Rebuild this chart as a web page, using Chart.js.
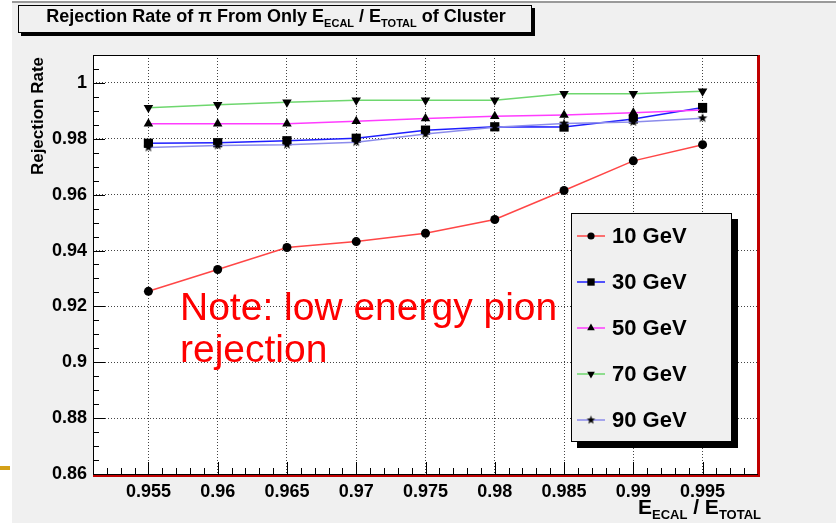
<!DOCTYPE html>
<html>
<head>
    <title>Rejection Rate of pi</title>
    <script src="https://cdn.jsdelivr.net/npm/chart.js"></script>
    <style>body { margin: 0; background: #fff; }</style>
</head>
<body>
    <canvas id="myChart" width="836" height="523"></canvas>
    <script>
        // values
        var ratios = [0.955, 0.96, 0.965, 0.97, 0.975, 0.98, 0.985, 0.99, 0.995];
        var seriesNames = ['10 GeV', '30 GeV', '50 GeV', '70 GeV', '90 GeV'];
        var rate10 = [0.9254, 0.9332, 0.9411, 0.9432, 0.9462, 0.9511, 0.9615, 0.9721, 0.9779];
        var rate30 = [0.9784, 0.9786, 0.9793, 0.9802, 0.9831, 0.9843, 0.9842, 0.9871, 0.9912];
        var rate50 = [0.9854, 0.9854, 0.9854, 0.9863, 0.9873, 0.9881, 0.9885, 0.9893, 0.9903];
        var rate70 = [0.9911, 0.9922, 0.9931, 0.9938, 0.9938, 0.9938, 0.9961, 0.9961, 0.9970];
        var rate90 = [0.9769, 0.9776, 0.9779, 0.9788, 0.9817, 0.9841, 0.9855, 0.9860, 0.9874];
        var xTicks = [0.955, 0.96, 0.965, 0.97, 0.975, 0.98, 0.985, 0.99, 0.995];
        var yTicks = [0.86, 0.88, 0.9, 0.92, 0.94, 0.96, 0.98, 1];

        var bgGray = '#f0f0f0';
        var boldFont = '"Liberation Sans", Arial, sans-serif';

        // filled star marker like ROOT's
        function makeStar(r) {
            var c = document.createElement('canvas');
            c.width = c.height = Math.ceil(r * 2 + 2);
            var g = c.getContext('2d');
            var cx = c.width / 2, cy = c.height / 2;
            g.beginPath();
            for (var i = 0; i < 10; i++) {
                var rr = i % 2 === 0 ? r : r * 0.42;
                var a = -Math.PI / 2 + i * Math.PI / 5;
                g.lineTo(cx + rr * Math.cos(a), cy + rr * Math.sin(a));
            }
            g.closePath();
            g.fillStyle = '#000';
            g.fill();
            return c;
        }
        var starBig = makeStar(5);
        var starSmall = makeStar(4.5);

        function points(vals) {
            return vals.map(function (v, i) { return { x: ratios[i], y: v }; });
        }

        var styles = [
            { color: 'rgb(255,70,70)', style: 'circle', radius: 4.5, rot: 0 },
            { color: 'rgb(30,30,255)', style: 'rect', radius: 6.5, rot: 0 },
            { color: 'rgb(255,60,255)', style: 'triangle', radius: 5.5, rot: 0 },
            { color: 'rgb(110,215,110)', style: 'triangle', radius: 5.5, rot: 180 },
            { color: 'rgb(140,140,235)', style: starBig, radius: 5, rot: 0 }
        ];
        var allRates = [rate10, rate30, rate50, rate70, rate90];

        var datasets = allRates.map(function (vals, i) {
            var s = styles[i];
            return {
                label: seriesNames[i],
                data: points(vals),
                borderColor: s.color,
                borderWidth: 1.5,
                pointStyle: s.style,
                pointRadius: s.radius,
                pointRotation: s.rot,
                pointBackgroundColor: '#000',
                pointBorderColor: '#000',
                pointBorderWidth: 0,
                tension: 0,
                fill: false,
                order: 5 - i
            };
        });

        function drawSubText(ctx, parts, x, y, align) {
            // parts: [text, size, dy]
            var total = 0;
            parts.forEach(function (p) {
                ctx.font = 'bold ' + p[1] + 'px ' + boldFont;
                p.w = ctx.measureText(p[0]).width;
                total += p.w;
            });
            var cx = align === 'center' ? x - total / 2 : (align === 'right' ? x - total : x);
            ctx.textAlign = 'left';
            ctx.textBaseline = 'alphabetic';
            parts.forEach(function (p) {
                ctx.font = 'bold ' + p[1] + 'px ' + boldFont;
                ctx.fillText(p[0], cx, y + p[2]);
                cx += p.w;
            });
        }

        var rootStyle = {
            id: 'rootStyle',
            beforeDraw: function (chart) {
                var ctx = chart.ctx, a = chart.chartArea;
                ctx.save();
                ctx.fillStyle = '#fff';
                ctx.fillRect(0, 0, chart.width, chart.height);
                ctx.fillStyle = bgGray;
                ctx.fillRect(12, 3, chart.width - 12, chart.height - 3);
                ctx.fillStyle = '#9a9a9a';
                ctx.fillRect(12, 1, chart.width - 12, 2);
                ctx.fillStyle = '#d4a017';
                ctx.fillRect(0, 466, 10, 4);
                ctx.fillStyle = '#fff';
                ctx.fillRect(a.left, a.top, a.right - a.left, a.bottom - a.top);
                ctx.restore();
            },
            afterDraw: function (chart) {
                var ctx = chart.ctx, a = chart.chartArea;
                var xs = chart.scales.x, ys = chart.scales.y;
                ctx.save();

                // frame
                ctx.fillStyle = '#c00000';
                ctx.fillRect(a.right - 1, a.top, 3, a.bottom - a.top + 3);
                ctx.fillRect(a.left, a.bottom + 1, a.right - a.left + 2, 2);
                ctx.strokeStyle = '#000';
                ctx.lineWidth = 1;
                ctx.beginPath();
                ctx.moveTo(a.left + 0.5, a.top);
                ctx.lineTo(a.left + 0.5, a.bottom + 0.5);
                ctx.lineTo(a.right, a.bottom + 0.5);
                ctx.moveTo(a.left, a.top + 0.5);
                ctx.lineTo(a.right, a.top + 0.5);
                ctx.stroke();

                // ticks inside frame
                ctx.beginPath();
                for (var k = 172; k <= 202; k++) {
                    var py = Math.round(ys.getPixelForValue(k * 0.005)) + 0.5;
                    var len = k % 4 === 0 ? 12 : 6;
                    ctx.moveTo(a.left, py);
                    ctx.lineTo(a.left + len, py);
                }
                for (var m = 952; m <= 998; m++) {
                    var px = Math.round(xs.getPixelForValue(m * 0.001)) + 0.5;
                    var l2 = m % 5 === 0 ? 12 : 6;
                    ctx.moveTo(px, a.bottom);
                    ctx.lineTo(px, a.bottom - l2);
                }
                ctx.stroke();

                // title box
                ctx.fillStyle = '#000';
                ctx.fillRect(21, 8, 514, 28);
                ctx.fillStyle = bgGray;
                ctx.fillRect(18, 5, 514, 28);
                ctx.strokeRect(18.5, 5.5, 513, 27);
                ctx.fillStyle = '#000';
                drawSubText(ctx, [
                    ['Rejection Rate of \u03c0 From Only E', 18, 0],
                    ['ECAL', 11, 5],
                    [' / E', 18, 0],
                    ['TOTAL', 11, 5],
                    [' of Cluster', 18, 0]
                ], 276, 22, 'center');

                // axis titles
                drawSubText(ctx, [
                    ['E', 21, 0],
                    ['ECAL', 13, 5],
                    [' / E', 21, 0],
                    ['TOTAL', 13, 5]
                ], 761, 514, 'right');
                ctx.save();
                ctx.translate(43, 57);
                ctx.rotate(-Math.PI / 2);
                ctx.font = 'bold 17px ' + boldFont;
                ctx.textAlign = 'right';
                ctx.textBaseline = 'alphabetic';
                ctx.fillText('Rejection Rate', 0, 0);
                ctx.restore();

                // note
                ctx.fillStyle = '#ff0000';
                ctx.font = '39px ' + boldFont;
                ctx.textAlign = 'left';
                ctx.fillText('Note: low energy pion', 180, 320);
                ctx.fillText('rejection', 180, 362);

                // legend
                ctx.fillStyle = '#000';
                ctx.fillRect(577, 219, 161, 229);
                ctx.fillStyle = bgGray;
                ctx.fillRect(571, 213, 161, 229);
                ctx.strokeRect(571.5, 213.5, 160, 228);
                var rowY = [236, 282, 328, 374, 420];
                chart.data.datasets.forEach(function (ds, i) {
                    var y = rowY[i];
                    ctx.setLineDash([]);
                    ctx.strokeStyle = ds.borderColor;
                    ctx.lineWidth = 1.5;
                    ctx.beginPath();
                    ctx.moveTo(577, y);
                    ctx.lineTo(605, y);
                    ctx.stroke();
                    var st = ds.pointStyle === starBig ? starSmall : ds.pointStyle;
                    ctx.fillStyle = '#000';
                    ctx.strokeStyle = '#000';
                    Chart.helpers.drawPoint(ctx, {
                        pointStyle: st,
                        radius: ds.pointRadius * 0.8,
                        rotation: ds.pointRotation,
                        borderWidth: 0
                    }, 591, y);
                    ctx.fillStyle = '#000';
                    ctx.font = 'bold 22px ' + boldFont;
                    ctx.textBaseline = 'middle';
                    ctx.fillText(ds.label, 612, y + 1);
                });
                ctx.restore();
            }
        };

        var ctx = document.getElementById('myChart').getContext('2d');
        var myChart = new Chart(ctx, {
            type: 'line',
            data: { datasets: datasets },
            options: {
                responsive: false,
                animation: false,
                layout: { padding: { top: 55, right: 78, left: 0, bottom: 0 } },
                plugins: { legend: { display: false }, tooltip: { enabled: false } },
                elements: { point: { backgroundColor: '#000' } },
                scales: {
                    x: {
                        type: 'linear',
                        min: 0.951,
                        max: 0.999,
                        afterBuildTicks: function (s) { s.ticks = xTicks.map(function (v) { return { value: v }; }); },
                        afterFit: function (s) { s.height = 49; },
                        grid: { color: '#444', drawTicks: false },
                        border: { display: false, dash: [1, 2] },
                        ticks: {
                            padding: 7,
                            color: '#000',
                            maxRotation: 0,
                            font: { family: boldFont, size: 18, weight: 'bold' },
                            callback: function (v) { return String(+v.toFixed(3)); }
                        }
                    },
                    y: {
                        min: 0.86,
                        max: 1.01,
                        afterBuildTicks: function (s) { s.ticks = yTicks.map(function (v) { return { value: v }; }); },
                        afterFit: function (s) { s.width = 93; },
                        grid: { color: '#444', drawTicks: false },
                        border: { display: false, dash: [1, 2] },
                        ticks: {
                            padding: 6,
                            color: '#000',
                            font: { family: boldFont, size: 18, weight: 'bold' },
                            callback: function (v) { return String(+v.toFixed(2)); }
                        }
                    }
                }
            },
            plugins: [rootStyle]
        });
    </script>
</body>
</html>
